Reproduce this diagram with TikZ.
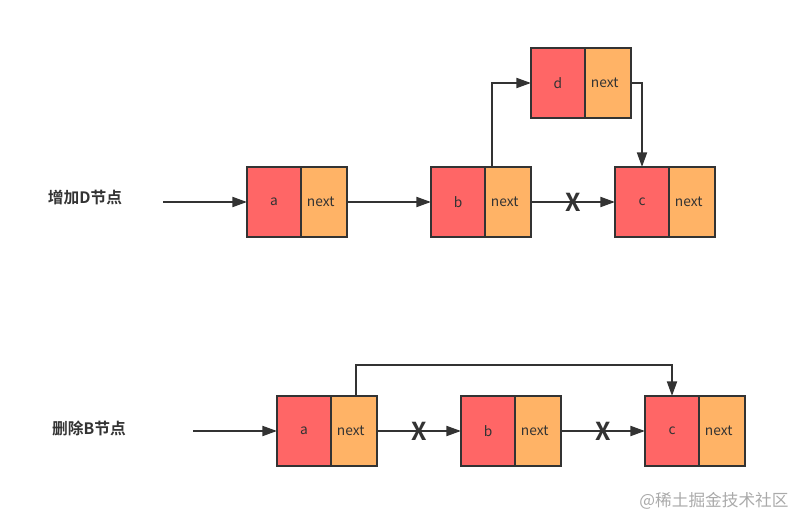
\documentclass[tikz,border=0pt]{standalone}
\usepackage{fontspec}
\setmainfont{Noto Sans CJK SC}[BoldFont={Noto Sans CJK SC Bold}]
\usepackage{tikz}
\usetikzlibrary{arrows.meta}
\usepackage{xcolor}

\definecolor{linegray}{RGB}{51,51,51}
\definecolor{cellred}{RGB}{255,102,102}
\definecolor{cellorange}{RGB}{255,179,102}
\definecolor{markgray}{RGB}{170,170,170}

\tikzset{
  datacell/.style={draw=linegray, fill=cellred, line width=1.5pt, inner sep=0pt, outer sep=0pt,
    minimum width=40.5pt, minimum height=52.5pt, text=linegray, font=\fontsize{10.3}{12}\selectfont},
  nextcell/.style={datacell, fill=cellorange, minimum width=34.5pt},
  link/.style={draw=linegray, line width=1.5pt, -{Triangle[length=11pt,width=7.5pt]}},
  cross/.style={text=linegray, inner sep=0pt, font=\fontsize{18.5}{18.5}\selectfont\bfseries},
  rowlabel/.style={text=linegray, inner sep=0pt, font=\fontsize{11.8}{14}\selectfont\bfseries},
}
\newcommand{\nexttext}{next\hspace*{5pt}}

\begin{document}
\begin{tikzpicture}[x=0.75pt,y=0.75pt,yscale=-1,xscale=1]
\useasboundingbox (0,0) rectangle (807,528);

% Text Node
\node[rowlabel] (addlabel) at (85,198) {增加D节点};
% Text Node
\node[rowlabel] (dellabel) at (89,428) {删除B节点};

%Top list: a -> b -> c, d inserted
\node[datacell] (ta) at (274,202) {a};
\node[nextcell, anchor=west] (tan) at (ta.east) {\nexttext};
\node[datacell] (tb) at (458,202) {b};
\node[nextcell, anchor=west] (tbn) at (tb.east) {\nexttext};
\node[datacell] (tc) at (642,202) {c};
\node[nextcell, anchor=west] (tcn) at (tc.east) {\nexttext};
\node[datacell] (td) at (558,83) {d};
\node[nextcell, anchor=west] (tdn) at (td.east) {\nexttext};
\coordinate (tin) at (163,202);

\draw[link] (tin) -- (ta);
\draw[link] (tan) -- (tb);
\draw[link] (tbn) -- node[cross] (tx) {X} (tc);
\draw[link] ([xshift=-12pt]tbn.north) |- (td);
\draw[link] (tdn.east) -| (tc);

%Bottom list: a -> c, b removed
\node[datacell] (ba) at (304,431) {a};
\node[nextcell, anchor=west] (ban) at (ba.east) {\nexttext};
\node[datacell] (bb) at (488,431) {b};
\node[nextcell, anchor=west] (bbn) at (bb.east) {\nexttext};
\node[datacell] (bc) at (672,431) {c};
\node[nextcell, anchor=west] (bcn) at (bc.east) {\nexttext};
\coordinate (bin) at (193,431);

\draw[link] (bin) -- (ba);
\draw[link] (ban) -- node[cross] (bx1) {X} (bb);
\draw[link] (bbn) -- node[cross] (bx2) {X} (bc);
\draw[link] ([xshift=1.5pt]ban.north) -- ++(0,-31) -| (bc);

% Text Node
\node[text=markgray, inner sep=0pt, font=\fontsize{12.5}{14}\selectfont] (mark) at (714,501) {@稀土掘金技术社区};

\end{tikzpicture}
\end{document}
